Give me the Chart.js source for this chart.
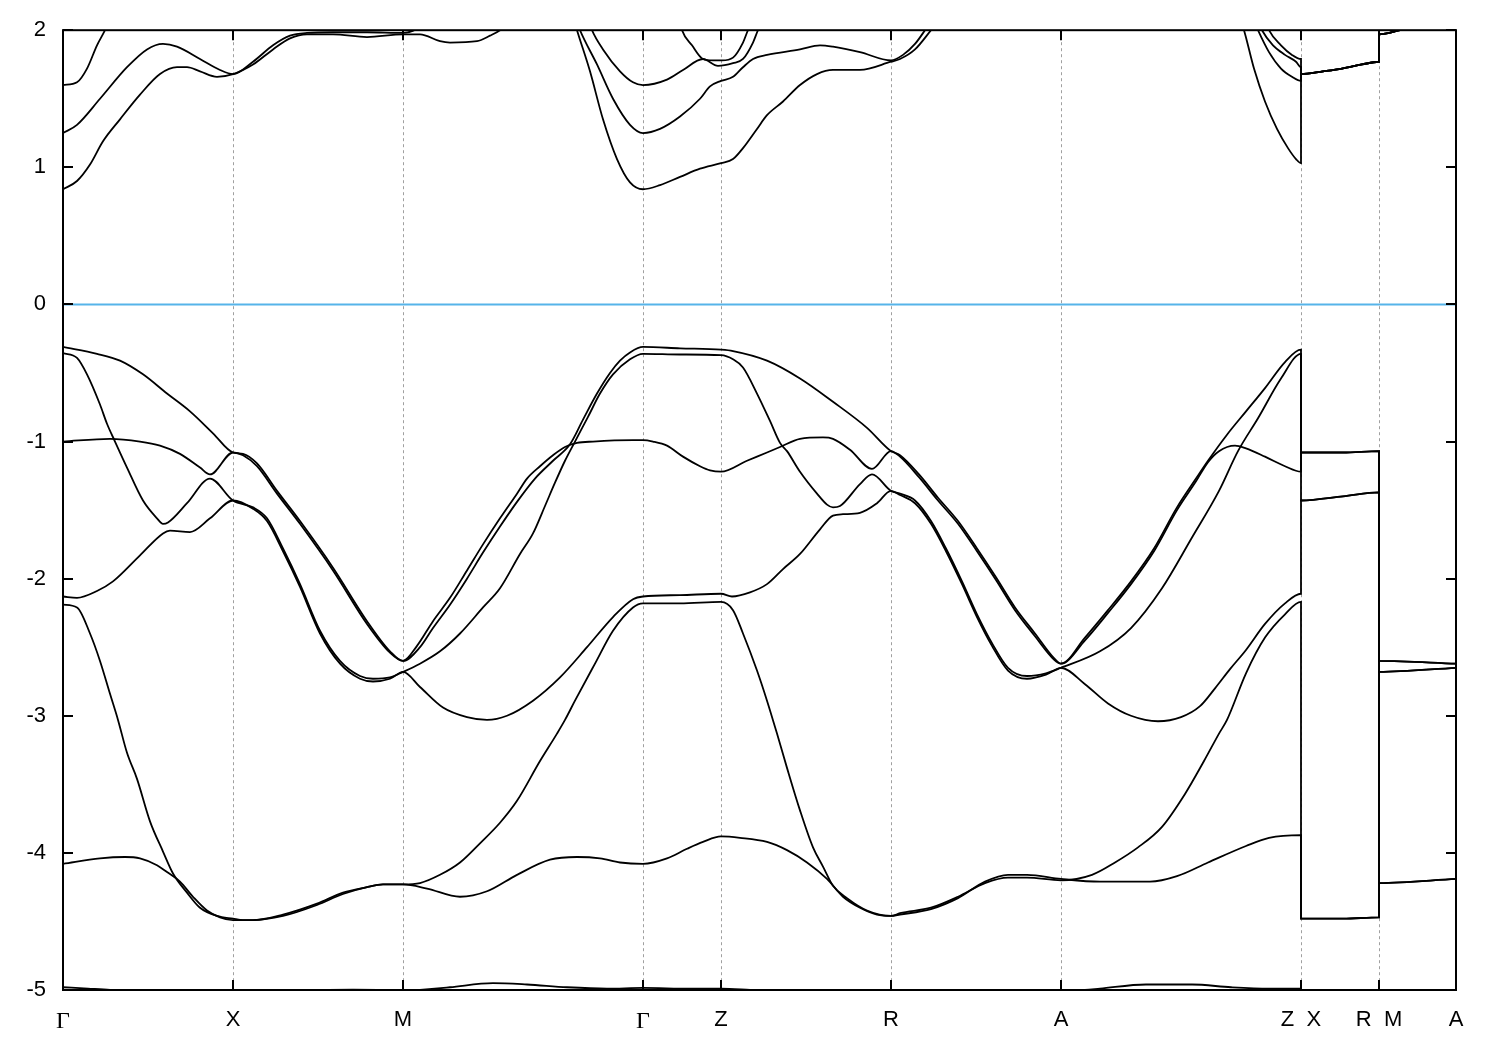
<!DOCTYPE html>
<html>
<head>
<meta charset="utf-8">
<script src="https://cdn.jsdelivr.net/npm/chart.js@4.4.0/dist/chart.umd.min.js"></script>
<style>
    html, body { margin: 0; padding: 0; background: #ffffff; }
    #graph { display: block; }
</style>
</head>
<body>
<canvas id="graph" width="1500" height="1050"></canvas>
<script>
// k-path positions of the high-symmetry points and their labels
const kTicks = [0, 1.70, 3.40, 5.80, 6.58, 8.28, 9.98, 12.38, 13.16, 13.93];
const kLabels = ['Γ', 'X', 'M', 'Γ', 'Z', 'R', 'A', 'Z  X', 'R  M', 'A'];

// energy window
const eMin = -5;
const eMax = 2;

// valence bands, [k, E]
const band1 = [[0,-0.31],[0.34,-0.36],[0.57,-0.41],[0.80,-0.51],[1.04,-0.65],[1.27,-0.78],[1.50,-0.94],[1.70,-1.08],
    [1.80,-1.09],[1.94,-1.16],[2.14,-1.36],[2.37,-1.58],[2.70,-1.92],[3.04,-2.31],[3.27,-2.53],[3.40,-2.60],
    [3.57,-2.50],[3.70,-2.36],[3.87,-2.19],[4.04,-2.00],[4.20,-1.81],[4.37,-1.62],[4.54,-1.44],[4.72,-1.27],[4.90,-1.14],[5.07,-1.02],[5.20,-0.84],[5.34,-0.65],[5.47,-0.50],[5.57,-0.41],[5.67,-0.35],[5.80,-0.31],
    [6.17,-0.32],[6.58,-0.33],
    [6.70,-0.34],[7.04,-0.41],[7.37,-0.54],[7.70,-0.71],[8.04,-0.90],[8.28,-1.07],
    [8.37,-1.10],[8.56,-1.24],[8.75,-1.41],[8.95,-1.58],[9.14,-1.78],[9.33,-1.99],[9.52,-2.21],[9.72,-2.40],[9.91,-2.58],[9.98,-2.62],
    [10.22,-2.43],[10.45,-2.23],[10.68,-2.02],[10.91,-1.78],[11.14,-1.48],[11.33,-1.27],[11.45,-1.14],[11.64,-0.95],[11.83,-0.78],[12.02,-0.61],[12.22,-0.42],[12.38,-0.33],
    [12.38,-1.08],[12.80,-1.08],[13.16,-1.07],[13.16,-2.60],[13.93,-2.62]];

const band2 = [[0,-0.355],[0.14,-0.39],[0.24,-0.51],[0.37,-0.73],[0.44,-0.87],[0.52,-1.00],[0.64,-1.19],[0.80,-1.43],[0.94,-1.56],[1.00,-1.60],[1.05,-1.59],[1.24,-1.45],[1.47,-1.27],[1.70,-1.43],
    [1.90,-1.48],[2.04,-1.56],[2.20,-1.78],[2.37,-2.04],[2.57,-2.38],[2.77,-2.60],[2.97,-2.71],[3.10,-2.73],[3.27,-2.72],[3.40,-2.68],
    [3.57,-2.62],[3.77,-2.53],[3.97,-2.40],[4.20,-2.21],[4.37,-2.07],[4.57,-1.82],[4.70,-1.67],[4.82,-1.47],[4.92,-1.30],[5.02,-1.14],[5.12,-1.00],[5.25,-0.82],[5.37,-0.65],[5.50,-0.51],[5.67,-0.40],[5.80,-0.36],
    [6.17,-0.365],[6.58,-0.37],
    [6.70,-0.40],[6.80,-0.46],[6.94,-0.65],[7.07,-0.85],[7.17,-1.01],[7.24,-1.07],[7.37,-1.22],[7.54,-1.38],[7.64,-1.46],[7.70,-1.48],[7.77,-1.47],[7.97,-1.31],[8.09,-1.24],[8.28,-1.36],
    [8.37,-1.38],[8.52,-1.43],[8.68,-1.58],[8.83,-1.78],[8.99,-2.02],[9.14,-2.26],[9.29,-2.47],[9.45,-2.65],[9.64,-2.71],[9.83,-2.69],[9.98,-2.65],
    [10.37,-2.53],[10.68,-2.36],[10.99,-2.07],[11.29,-1.70],[11.56,-1.36],[11.75,-1.07],[11.95,-0.83],[12.18,-0.54],[12.38,-0.36],
    [12.38,-1.43],[12.80,-1.40],[13.16,-1.37],[13.16,-2.60],[13.93,-2.62]];

const band3 = [[0,-1.00],[0.47,-0.98],[0.77,-1.00],[0.97,-1.03],[1.17,-1.09],[1.37,-1.19],[1.47,-1.24],[1.70,-1.08],
    [1.80,-1.10],[1.94,-1.18],[2.14,-1.38],[2.37,-1.60],[2.70,-1.94],[3.04,-2.33],[3.27,-2.54],[3.40,-2.60],
    [3.54,-2.49],[3.70,-2.31],[3.87,-2.14],[4.04,-1.94],[4.20,-1.75],[4.37,-1.56],[4.54,-1.38],[4.64,-1.27],[4.77,-1.18],[4.90,-1.10],[5.02,-1.04],[5.14,-1.01],[5.30,-1.00],[5.70,-0.99],[5.80,-0.99],
    [5.90,-1.00],[6.04,-1.03],[6.20,-1.11],[6.37,-1.18],[6.47,-1.21],[6.58,-1.22],
    [6.84,-1.14],[7.04,-1.08],[7.17,-1.04],[7.37,-0.98],[7.60,-0.97],[7.70,-0.98],[7.87,-1.06],[8.09,-1.20],[8.28,-1.07],
    [8.37,-1.11],[8.56,-1.26],[8.75,-1.43],[8.95,-1.60],[9.14,-1.80],[9.33,-2.01],[9.52,-2.23],[9.72,-2.42],[9.91,-2.59],[9.98,-2.62],
    [10.22,-2.45],[10.45,-2.25],[10.68,-2.04],[10.91,-1.80],[11.14,-1.50],[11.33,-1.29],[11.45,-1.15],[11.56,-1.07],[11.72,-1.03],[11.83,-1.05],[12.02,-1.11],[12.22,-1.18],[12.38,-1.22],
    [12.38,-1.08],[12.80,-1.08],[13.16,-1.07],[13.16,-2.68],[13.93,-2.65]];

const band4 = [[0,-2.13],[0.14,-2.14],[0.34,-2.09],[0.50,-2.02],[0.77,-1.83],[1.00,-1.67],[1.07,-1.65],[1.27,-1.66],[1.47,-1.56],[1.70,-1.43],
    [1.90,-1.49],[2.04,-1.58],[2.20,-1.80],[2.37,-2.06],[2.57,-2.40],[2.77,-2.62],[2.97,-2.73],[3.10,-2.75],[3.27,-2.73],[3.40,-2.68],
    [3.57,-2.79],[3.80,-2.94],[4.04,-3.01],[4.24,-3.03],[4.44,-3.00],[4.70,-2.89],[4.97,-2.72],[5.24,-2.50],[5.50,-2.28],[5.70,-2.15],[5.80,-2.13],
    [6.17,-2.12],[6.58,-2.11],
    [6.69,-2.13],[6.87,-2.10],[7.04,-2.04],[7.20,-1.93],[7.37,-1.82],[7.57,-1.64],[7.70,-1.54],[7.80,-1.53],[7.97,-1.52],[8.14,-1.45],[8.28,-1.36],
    [8.37,-1.39],[8.52,-1.45],[8.68,-1.60],[8.83,-1.80],[8.99,-2.04],[9.14,-2.28],[9.29,-2.49],[9.45,-2.67],[9.64,-2.73],[9.83,-2.70],[9.98,-2.65],
    [10.22,-2.77],[10.45,-2.91],[10.68,-3.00],[10.95,-3.04],[11.18,-3.01],[11.37,-2.93],[11.52,-2.80],[11.67,-2.66],[11.83,-2.52],[12.02,-2.33],[12.22,-2.18],[12.38,-2.11],
    [12.38,-1.43],[12.80,-1.40],[13.16,-1.37],[13.16,-4.22],[13.93,-4.19]];

const band5 = [[0,-2.19],[0.14,-2.21],[0.27,-2.40],[0.37,-2.60],[0.47,-2.84],[0.55,-3.03],[0.64,-3.27],[0.74,-3.46],[0.87,-3.77],[1.00,-3.99],[1.10,-4.15],[1.24,-4.29],[1.37,-4.40],[1.54,-4.46],[1.70,-4.48],
    [1.80,-4.49],[1.90,-4.49],[2.20,-4.45],[2.54,-4.37],[2.80,-4.29],[3.04,-4.25],[3.20,-4.23],[3.40,-4.23],
    [3.57,-4.22],[3.77,-4.16],[3.97,-4.07],[4.17,-3.93],[4.37,-3.78],[4.54,-3.62],[4.77,-3.33],[4.94,-3.13],[5.02,-3.03],[5.12,-2.89],[5.32,-2.62],[5.50,-2.38],[5.70,-2.21],[5.80,-2.18],
    [6.17,-2.18],[6.58,-2.17],
    [6.70,-2.23],[6.80,-2.40],[6.94,-2.67],[7.04,-2.89],[7.14,-3.13],[7.24,-3.38],[7.37,-3.69],[7.50,-3.96],[7.60,-4.10],[7.70,-4.24],[7.84,-4.33],[8.04,-4.42],[8.28,-4.46],
    [8.37,-4.44],[8.68,-4.40],[8.95,-4.32],[9.22,-4.22],[9.45,-4.18],[9.64,-4.18],[9.98,-4.20],
    [10.29,-4.16],[10.52,-4.07],[10.75,-3.96],[10.99,-3.81],[11.22,-3.57],[11.41,-3.33],[11.56,-3.13],[11.64,-3.03],[11.83,-2.69],[12.02,-2.43],[12.22,-2.26],[12.38,-2.17],
    [12.38,-4.48],[12.80,-4.48],[13.16,-4.47],[13.16,-2.68],[13.93,-2.65]];

const band6 = [[0,-4.08],[0.37,-4.04],[0.62,-4.03],[0.77,-4.04],[0.94,-4.09],[1.04,-4.14],[1.17,-4.21],[1.30,-4.32],[1.44,-4.42],[1.57,-4.47],[1.70,-4.49],
    [1.90,-4.49],[2.20,-4.46],[2.54,-4.38],[2.80,-4.30],[3.04,-4.25],[3.20,-4.23],[3.40,-4.23],
    [3.64,-4.26],[3.97,-4.32],[4.24,-4.28],[4.54,-4.16],[4.87,-4.05],[5.14,-4.03],[5.37,-4.04],[5.57,-4.07],[5.80,-4.08],
    [6.04,-4.04],[6.24,-3.97],[6.40,-3.92],[6.58,-3.88],
    [6.77,-3.89],[7.04,-3.92],[7.24,-3.98],[7.44,-4.07],[7.64,-4.19],[7.80,-4.32],[7.97,-4.40],[8.14,-4.45],[8.28,-4.46],
    [8.37,-4.45],[8.68,-4.41],[8.95,-4.33],[9.22,-4.21],[9.45,-4.16],[9.64,-4.16],[9.98,-4.19],
    [10.37,-4.21],[10.87,-4.21],[11.14,-4.17],[11.45,-4.07],[11.83,-3.95],[12.06,-3.89],[12.38,-3.87],
    [12.38,-4.48],[12.80,-4.48],[13.16,-4.47],[13.16,-4.22],[13.93,-4.19]];

const band7 = [[0,-4.98],[0.25,-4.99],[0.47,-5.0],[0.80,-5.04],[1.20,-5.07],[1.70,-5.08],[2.20,-5.04],[2.60,-5.0],[2.90,-4.997],[3.20,-5.0],[3.40,-5.01],
    [3.57,-5.0],[3.87,-4.98],[4.30,-4.95],[4.64,-4.96],[5.04,-4.98],[5.44,-4.99],[5.80,-4.985],
    [6.27,-4.99],[6.58,-4.99],[6.87,-5.0],[7.37,-5.02],[7.87,-5.06],[8.28,-5.08],
    [8.90,-5.06],[9.50,-5.02],[9.98,-5.01],[10.22,-5.0],[10.37,-4.99],[10.83,-4.96],[11.29,-4.96],[11.68,-4.98],[12.06,-4.99],[12.38,-4.99],
    [12.38,-5.08],[13.16,-5.08],[13.16,-5.04],[13.93,-5.05]];

// conduction bands, [k, E]
const cband1 = [[0,0.84],[0.14,0.90],[0.27,1.02],[0.40,1.19],[0.57,1.35],[0.77,1.53],[0.97,1.68],[1.14,1.73],[1.24,1.73],[1.37,1.70],[1.54,1.66],[1.70,1.68],
    [1.90,1.75],[2.10,1.86],[2.27,1.94],[2.44,1.97],[2.70,1.97],[3.04,1.95],[3.40,1.97],
    [3.57,1.97],[3.77,1.92],[3.87,1.91],[4.14,1.92],[4.27,1.96],[4.37,2.00],[4.60,2.15],[4.90,2.25],[5.08,2.15],[5.14,2.00],
    [5.27,1.70],[5.40,1.35],[5.54,1.06],[5.67,0.89],[5.80,0.84],[5.97,0.87],[6.17,0.93],[6.37,0.99],[6.58,1.03],
    [6.70,1.06],[6.80,1.14],[6.94,1.28],[7.04,1.38],[7.20,1.48],[7.37,1.60],[7.54,1.68],[7.70,1.71],[7.97,1.71],[8.28,1.77],
    [8.37,1.79],[8.52,1.86],[8.68,2.00],[8.90,2.20],[9.50,2.40],[11.50,2.40],[11.74,2.15],[11.81,2.00],[11.91,1.72],[12.02,1.48],[12.14,1.28],[12.25,1.14],[12.33,1.06],[12.38,1.03],
    [12.38,1.68],[12.60,1.70],[12.79,1.72],[12.99,1.75],[13.16,1.77],[13.16,1.97],[13.37,2.00],[13.93,2.10]];

const cband2 = [[0,1.25],[0.14,1.31],[0.37,1.50],[0.64,1.73],[0.84,1.86],[1.00,1.90],[1.14,1.88],[1.37,1.79],[1.57,1.71],[1.70,1.68],
    [1.90,1.77],[2.10,1.89],[2.27,1.96],[2.44,1.98],[2.70,1.985],[3.04,1.985],[3.40,1.98],[3.57,2.02],[3.90,2.20],[4.90,2.30],[5.12,2.10],[5.17,2.00],
    [5.34,1.75],[5.50,1.50],[5.67,1.31],[5.80,1.25],[5.97,1.28],[6.17,1.37],[6.37,1.50],[6.47,1.59],[6.58,1.63],
    [6.70,1.66],[6.80,1.73],[6.90,1.79],[7.04,1.82],[7.37,1.86],[7.57,1.89],[7.70,1.88],[7.97,1.84],[8.28,1.78],
    [8.40,1.82],[8.52,1.90],[8.62,2.00],[8.80,2.20],[9.50,2.40],[11.60,2.40],[11.88,2.12],[11.95,2.00],[12.06,1.84],[12.18,1.72],[12.29,1.66],[12.38,1.63],
    [12.38,1.68],[12.60,1.70],[12.79,1.72],[12.99,1.75],[13.16,1.77],[13.16,1.97],[13.37,2.00],[13.93,2.10]];

const cband3 = [[0,1.60],[0.14,1.62],[0.24,1.72],[0.34,1.89],[0.42,2.00],[0.60,2.30],[5.00,2.40],[5.22,2.15],[5.29,2.00],
    [5.40,1.86],[5.57,1.70],[5.70,1.62],[5.80,1.60],[6.04,1.64],[6.20,1.71],[6.40,1.79],[6.55,1.74],[6.70,1.76],[6.80,1.79],[6.90,1.91],[6.95,2.00],
    [7.10,2.20],[7.50,2.40],[11.60,2.40],[11.92,2.12],[11.99,2.00],[12.10,1.89],[12.22,1.82],[12.33,1.77],[12.38,1.73],
    [12.38,1.68],[12.60,1.70],[12.79,1.72],[12.99,1.75],[13.16,1.77],[13.16,1.97],[13.37,2.00],[13.93,2.10]];

const cband4 = [[0,2.40],[6.00,2.40],[6.14,2.15],[6.19,2.00],[6.29,1.89],[6.40,1.79],[6.50,1.78],[6.59,1.78],[6.70,1.80],[6.80,1.91],[6.85,2.00],
    [7.00,2.20],[7.50,2.40],[11.70,2.40],[12.00,2.12],[12.06,2.00],[12.18,1.89],[12.29,1.82],[12.38,1.79],
    [12.38,1.68],[12.60,1.70],[12.79,1.72],[12.99,1.75],[13.16,1.77],[13.16,1.97],[13.37,2.00],[13.93,2.10]];

// Fermi level
const fermi = [[0, 0], [13.93, 0]];

const bands = [band1, band2, band3, band4, band5, band6, band7, cband1, cband2, cband3, cband4];

function toPoints(pairs) {
    return pairs.map(p => ({ x: p[0], y: p[1] }));
}

// gnuplot style frame with inward ticks on all four sides
const framePlugin = {
    id: 'frame',
    afterDatasetsDraw(chart) {
        const ctx = chart.ctx;
        const area = chart.chartArea;
        const xs = chart.scales.x;
        const ys = chart.scales.y;
        ctx.save();
        ctx.strokeStyle = '#000000';
        ctx.lineWidth = 2;
        ctx.beginPath();
        kTicks.forEach(v => {
            const px = Math.round(xs.getPixelForValue(v));
            ctx.moveTo(px, area.bottom);
            ctx.lineTo(px, area.bottom - 10);
            ctx.moveTo(px, area.top);
            ctx.lineTo(px, area.top + 10);
        });
        ys.ticks.forEach(t => {
            const py = Math.round(ys.getPixelForValue(t.value));
            ctx.moveTo(area.left, py);
            ctx.lineTo(area.left + 10, py);
            ctx.moveTo(area.right, py);
            ctx.lineTo(area.right - 10, py);
        });
        ctx.stroke();
        ctx.strokeRect(area.left, area.top, area.right - area.left, area.bottom - area.top);
        ctx.restore();
    }
};

const datasets = [{
    data: toPoints(fermi),
    borderColor: '#56b4e9',
    borderWidth: 2,
    pointRadius: 0,
    fill: false,
    clip: 0
}];

bands.forEach(b => {
    datasets.push({
        data: toPoints(b),
        borderColor: '#000000',
        borderWidth: 1.8,
        pointRadius: 0,
        fill: false,
        cubicInterpolationMode: 'monotone',
        clip: 0
    });
});

const canvas = document.getElementById('graph');

const chart = new Chart(canvas, {
    type: 'line',
    data: { datasets: datasets },
    options: {
        responsive: false,
        animation: false,
        events: [],
        layout: {
            padding: { top: 28, right: 44, left: 0, bottom: 0 }
        },
        plugins: {
            legend: { display: false },
            tooltip: { enabled: false }
        },
        scales: {
            x: {
                type: 'linear',
                position: 'bottom',
                min: kTicks[0],
                max: kTicks[kTicks.length - 1],
                afterBuildTicks: scale => {
                    scale.ticks = kTicks.map(v => ({ value: v }));
                },
                afterFit: scale => {
                    scale.height = 60;
                },
                ticks: {
                    autoSkip: false,
                    maxRotation: 0,
                    padding: 17,
                    color: '#000000',
                    callback: (value, index) => kLabels[index],
                    font: ctx => {
                        if (ctx.tick && ctx.tick.label === 'Γ') {
                            return { family: "'Liberation Serif', 'DejaVu Serif', serif", size: 24 };
                        }
                        return { family: "'Liberation Sans', Arial, sans-serif", size: 22 };
                    }
                },
                grid: {
                    drawTicks: false,
                    lineWidth: 1,
                    color: ctx => (ctx.index === 0 || ctx.index === kTicks.length - 1) ? 'rgba(0,0,0,0)' : '#a0a0a0'
                },
                border: {
                    display: false,
                    dash: [3, 3]
                }
            },
            y: {
                type: 'linear',
                min: eMin,
                max: eMax,
                afterFit: scale => {
                    scale.width = 63;
                },
                ticks: {
                    stepSize: 1,
                    padding: 17,
                    color: '#000000',
                    callback: value => String(value),
                    font: { family: "'Liberation Sans', Arial, sans-serif", size: 22 }
                },
                grid: {
                    display: false,
                    drawTicks: false
                },
                border: {
                    display: false
                }
            }
        }
    },
    plugins: [framePlugin]
});
</script>
</body>
</html>
